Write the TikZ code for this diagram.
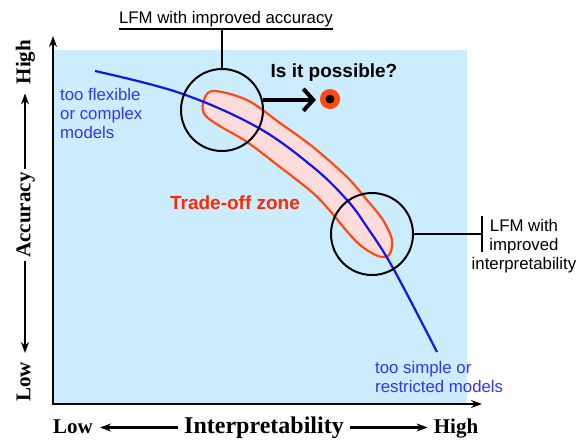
\documentclass[tikz,border=0pt]{standalone}
\usepackage{fontspec}
\setmainfont{Liberation Sans}
\newfontfamily\axisfont{Liberation Serif}
\usetikzlibrary{arrows.meta}
\definecolor{skyback}{HTML}{CCECFF}
\definecolor{zonefill}{HTML}{FFDCDC}
\definecolor{zoneline}{HTML}{FF4A10}
\definecolor{zonetext}{HTML}{FF2A00}
\definecolor{curveblue}{HTML}{1414F0}
\definecolor{textblue}{HTML}{3333FF}

\begin{document}
\begin{tikzpicture}[x=1pt, y=-1pt,
    every node/.style={font=\fontsize{16.8}{19}\selectfont, inner sep=0pt},
    axislabel/.style={font=\axisfont\bfseries\fontsize{21}{24}\selectfont,
      text height=15pt, text depth=4pt},
    lens/.style={draw, circle, line width=2pt, minimum size=82pt},
    lblarrow/.style={-{Stealth[length=11pt,width=8pt]}, line width=2.2pt}]

    \useasboundingbox (0,0) rectangle (576,440);
    \fill[skyback] (53,50) rectangle (467,404);

    % trade-off band and frontier
    \filldraw[fill=zonefill, draw=zoneline, line width=2.2pt]
      plot[smooth cycle, tension=0.55] coordinates {(203,104) (212,91)
      (247,100) (280,123) (313,147) (347,177) (367,200) (383,220) (392,240)
      (389,255) (378,256) (360,245) (345,229) (331,212) (313,193) (280,167)
      (247,142) (218,125) (205,115)};
    \draw[curveblue, line width=2.2pt] plot[smooth, tension=0.6]
      coordinates {(95,71) (180,93) (257,127) (313,167) (347,200) (367,227)
      (393,268) (437,352)};

    \node[lens] (circA) at (222,110) {};
    \node[lens] (circB) at (372,234) {};

    \coordinate (origin) at (53,404);
    \coordinate (ytip) at (53,36);
    \coordinate (xtip) at (482,404);
    \draw[{Stealth[length=11pt,width=8pt]}-{Stealth[length=11pt,width=8pt]},
      line width=2.4pt] (ytip) -- (origin) -- (xtip);

    \node[axislabel, anchor=base] (xlow) at (73,433) {Low};
    \node[axislabel, anchor=base, font=\axisfont\bfseries\fontsize{24}{28}\selectfont]
      (interp) at (264,433) {Interpretability};
    \node[axislabel, anchor=base] (xhigh) at (456,433) {High};
    \draw[lblarrow, shorten <=6pt, shorten >=7pt] (interp.west) -- (interp.west -| xlow.east);
    \draw[lblarrow, shorten <=6pt, shorten >=6pt] (interp.east) -- (interp.east -| xhigh.west);

    \node[axislabel, rotate=90] (yhigh) at (25,62) {High};
    \node[axislabel, rotate=90] (accur) at (25,215) {Accuracy};
    \node[axislabel, rotate=90] (ylow) at (25,382) {Low};
    \draw[lblarrow, shorten <=3pt, shorten >=9pt] (accur.east) -- (yhigh.west);
    \draw[lblarrow, shorten <=3pt, shorten >=9pt] (accur.west) -- (ylow.east);

    \node[text=textblue, align=left, anchor=north west] (flexible) at (60,88)
      {too flexible\\or complex\\models};
    \node[text=textblue, align=left, anchor=north west] (simple) at (375,361)
      {too simple or\\restricted models};
    \node[font=\bfseries\fontsize{19}{22}\selectfont, text=zonetext, anchor=base]
      (zonelabel) at (235,209) {Trade-off zone};

    % the wished-for model
    \node[font=\bfseries\fontsize{19}{22}\selectfont, anchor=base]
      (possible) at (334,77) {Is it possible?};
    \node[circle, fill=black, draw=zoneline, line width=5.5pt,
      minimum size=14.5pt] (goal) at (330,99) {};
    \draw[-{Straight Barb[length=10pt,width=22pt]}, line width=4pt,
      shorten >=4pt] (circA.14) -- (circA.14 -| goal.west);

    \node[anchor=base] (acclabel) at (226,23) {LFM with improved accuracy};
    \coordinate (accfoot) at ([yshift=-6pt]acclabel.base);
    \draw[line width=2pt] ([yshift=-6pt]acclabel.base west)
      -- ([yshift=-6pt]acclabel.base east);
    \draw[line width=2pt] (circA.north) -- (circA.north |- accfoot);

    \node[align=center, anchor=north] (interplabel) at (524,219)
      {LFM with\\improved\\interpretability};
    \coordinate (barmid) at (482,234);
    \draw[line width=2pt] (circB.east) -- (barmid);
    \draw[line width=2pt] ([yshift=18pt]barmid) -- ([yshift=-18pt]barmid);
\end{tikzpicture}
\end{document}
